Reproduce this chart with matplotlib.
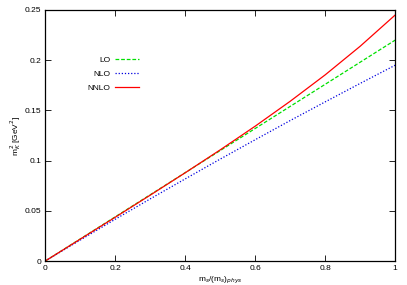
import matplotlib
matplotlib.use("Agg")
import matplotlib.pyplot as plt

# valeurs
ms_ratio = [0.0, 0.1, 0.2, 0.3, 0.4, 0.5, 0.6, 0.7, 0.8, 0.9, 1.0]
mk2_lo = [0.0, 0.022, 0.044, 0.066, 0.088, 0.110, 0.132, 0.154, 0.176, 0.198, 0.220]
mk2_nlo = [0.0, 0.0209, 0.0416, 0.0619, 0.0818, 0.1015, 0.1208, 0.1399, 0.1585, 0.1769, 0.195]
mk2_nnlo = [0.0, 0.0218, 0.0436, 0.0656, 0.0879, 0.1107, 0.1343, 0.1591, 0.1854, 0.2139, 0.245]

xticks = [0, 0.2, 0.4, 0.6, 0.8, 1]
xtick_labels = ["0", "0.2", "0.4", "0.6", "0.8", "1"]
yticks = [0, 0.05, 0.1, 0.15, 0.2, 0.25]
ytick_labels = ["0", "0.05", "0.1", "0.15", "0.2", "0.25"]

plt.rcParams["font.family"] = ["Liberation Sans", "DejaVu Sans"]

fig = plt.figure(figsize=(4.07, 2.85), dpi=100)
ax = fig.add_axes([0.111, 0.084, 0.860, 0.881])

ax.plot(ms_ratio, mk2_lo, color="#00e000", lw=0.9, linestyle=(0, (3, 1.5)), label="LO")
ax.plot(ms_ratio, mk2_nlo, color="#0000e0", lw=0.9, linestyle=(0, (1, 1.5)), label="NLO")
ax.plot(ms_ratio, mk2_nnlo, color="#ff0000", lw=0.9, label="NNLO")

ax.set_xlim(0, 1)
ax.set_ylim(0, 0.25)
ax.set_xticks(xticks)
ax.set_xticklabels(xtick_labels)
ax.set_yticks(yticks)
ax.set_yticklabels(ytick_labels)
ax.tick_params(direction="in", top=True, right=True, labelsize=6, length=4, width=0.6, pad=3)
for s in ax.spines.values():
    s.set_linewidth(0.9)

ax.set_xlabel("m$_s$/(m$_s$)$_{phys}$", fontsize=6, labelpad=2)
ax.set_ylabel("m$_K^2$ [GeV$^2$]", fontsize=6, labelpad=1)

# légende : texte à droite aligné, échantillon de ligne après
ax.legend(loc="upper left", bbox_to_anchor=(0.10, 0.845), frameon=False, markerfirst=False,
          fontsize=6, handlelength=2.9, handletextpad=0.5, labelspacing=0.7)

fig.savefig("out.png", dpi=100)
